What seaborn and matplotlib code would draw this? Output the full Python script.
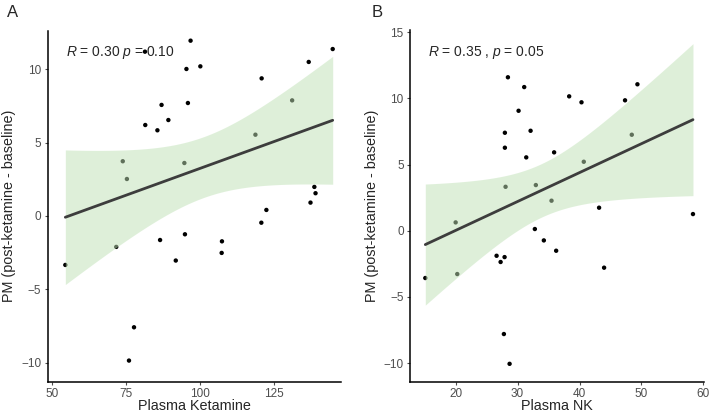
import seaborn as sns
import matplotlib.pyplot as plt
import numpy as np
import pandas as pd

# Panel A: plasma ketamine vs PM change
ket_x = [81.5, 96.9, 144.9, 95.5, 100.2, 136.8, 120.9, 131.2, 87.1, 96.0,
         89.4, 81.6, 85.7, 118.8, 74.0, 94.8, 75.4, 138.7, 139.1, 137.4,
         122.5, 120.8, 95.0, 86.6, 107.5, 71.8, 107.4, 91.9, 54.6, 77.8, 76.1]
ket_y = [11.2, 11.95, 11.38, 10.02, 10.2, 10.5, 9.38, 7.88, 7.57, 7.7,
         6.54, 6.2, 5.84, 5.54, 3.73, 3.61, 2.52, 1.98, 1.55, 0.91,
         0.41, -0.46, -1.25, -1.64, -1.73, -2.11, -2.52, -3.04, -3.34, -7.59, -9.86]

# Panel B: plasma NK vs PM change
nk_x = [28.44, 31.07, 38.33, 40.32, 47.35, 49.35, 30.16, 27.95, 32.1, 27.95,
        31.4, 35.9, 48.44, 40.69, 28.06, 32.95, 35.48, 43.16, 58.32, 20.0,
        32.79, 34.24, 36.23, 26.61, 27.90, 27.26, 43.97, 20.26, 15.1, 27.79, 28.71]
nk_y = [11.59, 10.85, 10.15, 9.70, 9.85, 11.06, 9.06, 7.40, 7.55, 6.27,
        5.54, 5.92, 7.25, 5.21, 3.32, 3.45, 2.27, 1.74, 1.26, 0.63,
        0.13, -0.73, -1.51, -1.89, -1.99, -2.36, -2.79, -3.27, -3.57, -7.80, -10.05]

ann_a = "$R$ = 0.30 $p$ = 0.10"
ann_b = "$R$ = 0.35 , $p$ = 0.05"

sns.set_theme(style="ticks")
plt.rcParams['font.family'] = ['Liberation Sans', 'DejaVu Sans']
plt.rcParams['mathtext.fontset'] = 'custom'
plt.rcParams['mathtext.rm'] = 'Liberation Sans'
plt.rcParams['mathtext.it'] = 'Liberation Sans:italic'

T975 = 2.045  # t quantile, df = 29


def lm_band(x, y, n=80):
    x = np.asarray(x)
    y = np.asarray(y)
    b1, b0 = np.polyfit(x, y, 1)
    resid = y - (b0 + b1 * x)
    s = np.sqrt(np.sum(resid ** 2) / (len(x) - 2))
    grid = np.linspace(x.min(), x.max(), n)
    fit = b0 + b1 * grid
    se = s * np.sqrt(1 / len(x) + (grid - x.mean()) ** 2 / np.sum((x - x.mean()) ** 2))
    return grid, fit, fit - T975 * se, fit + T975 * se


def panel(ax, x, y, xlab, ann, xlim, ylim, xticks, yticks):
    df = pd.DataFrame({'x': x, 'y': y})
    sns.scatterplot(data=df, x='x', y='y', ax=ax, color='black', s=10,
                    edgecolor='none', zorder=2)
    grid, fit, lo, hi = lm_band(x, y)
    ax.fill_between(grid, lo, hi, color='#bfe1b5', alpha=0.5, lw=0, zorder=3)
    sns.lineplot(x=grid, y=fit, ax=ax, color='#3d3d3d', lw=2, zorder=4)
    ax.text(0.062, 0.927, ann, transform=ax.transAxes, fontsize=10,
            va='baseline', ha='left', zorder=5)
    ax.set_xlim(*xlim)
    ax.set_ylim(*ylim)
    ax.set_xticks(xticks)
    ax.set_yticks(yticks)
    ax.set_xlabel(xlab, fontsize=10.4)
    ax.set_ylabel('PM (post-ketamine - baseline)', fontsize=10.4)
    ax.xaxis.set_label_coords(0.5, -0.05)
    ax.yaxis.set_label_coords(-0.107, 0.5)
    ax.tick_params(labelsize=8.5, colors='#4d4d4d', length=2.5, width=0.8,
                   labelcolor='#4d4d4d', pad=2)
    for sp in ['left', 'bottom']:
        ax.spines[sp].set_color('black')
        ax.spines[sp].set_linewidth(1.1)
    sns.despine(ax=ax)


fig = plt.figure(figsize=(7.12, 4.17), dpi=100)
W, H = 712, 417
ax_a = fig.add_axes([47.7 / W, 1 - 381.7 / H, 293 / W, 351 / H])
ax_b = fig.add_axes([410 / W, 1 - 381.7 / H, 294 / W, 351.7 / H])

panel(ax_a, ket_x, ket_y, 'Plasma Ketamine', ann_a, (48.65, 147.6), (-11.3, 12.63),
      [50, 75, 100, 125], [-10, -5, 0, 5, 10])
panel(ax_b, nk_x, nk_y, 'Plasma NK', ann_b, (12.63, 60.1), (-11.4, 15.16),
      [20, 30, 40, 50, 60], [-10, -5, 0, 5, 10, 15])

fig.text(7 / W, 1 - 17 / H, 'A', fontsize=12, va='baseline', ha='left')
fig.text(372 / W, 1 - 17 / H, 'B', fontsize=12, va='baseline', ha='left')

fig.savefig('out.png', dpi=100)
